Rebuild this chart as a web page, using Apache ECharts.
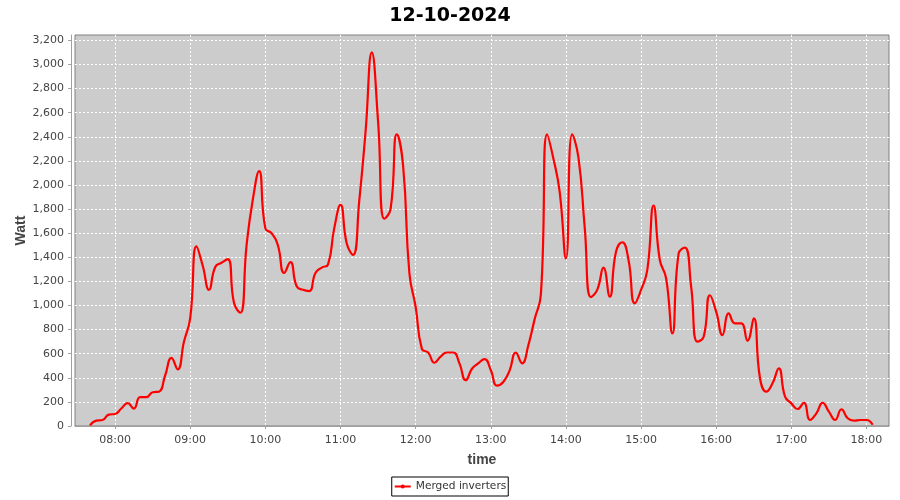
<!DOCTYPE html>
<html>
<head>
<meta charset="utf-8">
<script src="https://cdn.jsdelivr.net/npm/echarts@6/dist/echarts.min.js"></script>
<style>
html,body{margin:0;padding:0;background:#fff;}
#chart{width:900px;height:500px;}
</style>
</head>
<body>
<div id="chart"></div>
<script>
const chartTitle = '12-10-2024';
const seriesName = 'Merged inverters';
const yTicks = [0,200,400,600,800,1000,1200,1400,1600,1800,2000,2200,2400,2600,2800,3000,3200];
const xTickLabels = ['08:00','09:00','10:00','11:00','12:00','13:00','14:00','15:00','16:00','17:00','18:00'];

const times = [
 '07:40','07:45','07:50','07:55',
 '08:00','08:05','08:10','08:15','08:20','08:25','08:30','08:35','08:40','08:45','08:50','08:55',
 '09:00','09:05','09:10','09:15','09:20','09:25','09:30','09:35','09:40','09:45','09:50','09:55',
 '10:00','10:05','10:10','10:15','10:20','10:25','10:30','10:35','10:40','10:45','10:50','10:55',
 '11:00','11:05','11:10','11:15','11:20','11:25','11:30','11:35','11:40','11:45','11:50','11:55',
 '12:00','12:05','12:10','12:15','12:20','12:25','12:30','12:35','12:40','12:45','12:50','12:55',
 '13:00','13:05','13:10','13:15','13:20','13:25','13:30','13:35','13:40','13:45','13:50','13:55',
 '14:00','14:05','14:10','14:15','14:20','14:25','14:30','14:35','14:40','14:45','14:50','14:55',
 '15:00','15:05','15:10','15:15','15:20','15:25','15:30','15:35','15:40','15:45','15:50','15:55',
 '16:00','16:05','16:10','16:15','16:20','16:25','16:30','16:35','16:40','16:45','16:50','16:55',
 '17:00','17:05','17:10','17:15','17:20','17:25','17:30','17:35','17:40','17:45','17:50','17:55',
 '18:00','18:05'
];
const watts = [
 5,45,50,95,
 100,145,190,145,240,240,280,285,420,565,470,700,
 895,1490,1330,1130,1320,1355,1385,1020,940,1500,1880,2115,
 1640,1600,1500,1270,1360,1160,1130,1120,1270,1315,1340,1640,
 1835,1515,1420,1870,2440,3100,2530,1720,1800,2420,2160,1270,
 990,640,610,525,575,610,610,520,380,475,520,555,
 465,335,365,460,610,520,670,885,1090,2420,2220,1945,
 1390,2420,2230,1650,1070,1130,1315,1073,1447,1525,1378,1018,
 1129,1295,1830,1378,1226,769,1430,1480,1156,700,741,1085,
 949,755,935,852,852,708,894,396,285,354,479,243,
 188,141,193,50,105,193,119,50,139,64,44,50,
 50,10
];

function T(s){const p=s.split(':');return new Date(2024,9,12,+p[0],+p[1]).getTime();}
const data = times.map((t,i)=>[T(t), watts[i]]);

function commas(v){return String(v).replace(/\B(?=(\d{3})+(?!\d))/g, ',');}
function hhmm(v){const d=new Date(v);return String(d.getHours()).padStart(2,'0')+':'+String(d.getMinutes()).padStart(2,'0');}

const chart = echarts.init(document.getElementById('chart'), null, {renderer:'canvas'});
chart.setOption({
  animation:false,
  backgroundColor:'#ffffff',
  title:{
    text:chartTitle, left:'center', top:2,
    textStyle:{fontFamily:'DejaVu Sans', fontWeight:'bold', fontSize:19, color:'#000'}
  },
  grid:{left:75, right:11, top:35, bottom:74, show:true, backgroundColor:'#cccccc', borderColor:'#808080', borderWidth:1},
  legend:{
    data:[seriesName], left:'center', top:477,
    borderColor:'#000', borderWidth:1, padding:[4,2,4,2],
    itemWidth:16, itemHeight:5,
    textStyle:{fontFamily:'DejaVu Sans', fontSize:10.6, color:'#333'}
  },
  xAxis:{
    type:'time',
    min:T('07:28'), max:T('18:18'),
    offset:4,
    minInterval:3600000, maxInterval:3600000,
    name:'time', nameLocation:'middle', nameGap:23, nameMoveOverlap:false,
    nameTextStyle:{fontFamily:'Liberation Sans', fontWeight:'bold', fontSize:14, color:'#444'},
    axisLine:{show:true, lineStyle:{color:'#a0a0a0'}},
    axisTick:{show:true, length:3, lineStyle:{color:'#a0a0a0'}},
    axisLabel:{
      fontFamily:'DejaVu Sans', fontSize:11, color:'#444', margin:5, hideOverlap:false,
      formatter:function(v){const s=hhmm(v);return xTickLabels.indexOf(s)>=0?s:'';}
    },
    splitLine:{show:true, showMinLine:false, showMaxLine:false, lineStyle:{color:'#ffffff', type:[2,2], width:1}}
  },
  yAxis:{
    type:'value', min:0, max:3245, interval:200,
    offset:4,
    name:'Watt', nameLocation:'middle', nameGap:43, nameRotate:90, nameMoveOverlap:false,
    nameTextStyle:{fontFamily:'Liberation Sans', fontWeight:'bold', fontSize:14, color:'#444'},
    axisLine:{show:true, lineStyle:{color:'#a0a0a0'}},
    axisTick:{show:true, length:3, lineStyle:{color:'#a0a0a0'}},
    axisLabel:{
      fontFamily:'DejaVu Sans', fontSize:11, color:'#444', margin:7, showMaxLabel:false,
      formatter:function(v){return yTicks.indexOf(v)>=0?commas(v):'';}
    },
    splitLine:{show:true, showMinLine:false, showMaxLine:false, lineStyle:{color:'#ffffff', type:[2,2], width:1}}
  },
  series:[{
    name:seriesName, type:'line', data:data, smooth:0.5,
    symbol:'circle', symbolSize:3, showSymbol:false,
    lineStyle:{color:'#ff0000', width:2.2},
    itemStyle:{color:'#ff0000'}
  }]
});
</script>
</body>
</html>
